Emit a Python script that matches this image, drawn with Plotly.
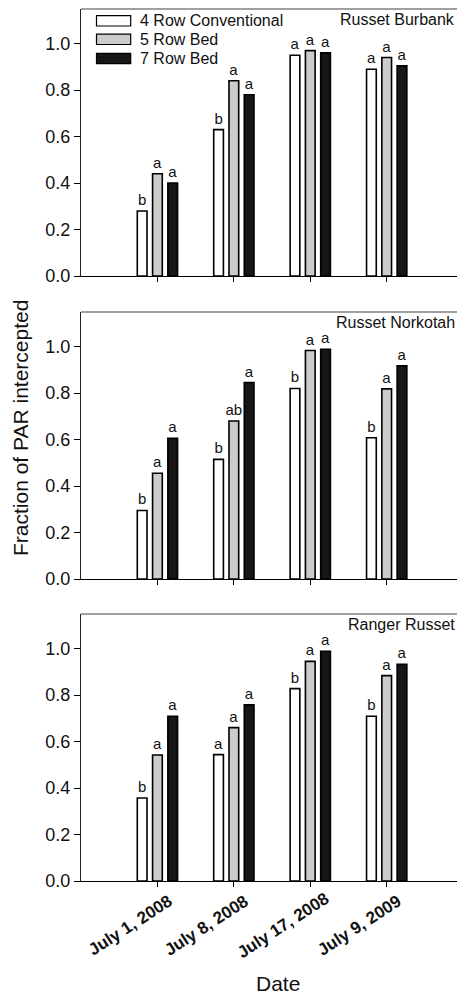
import plotly.graph_objects as go

dates = ["July 1, 2008", "July 8, 2008", "July 17, 2008", "July 9, 2009"]
series_names = ["4 Row Conventional", "5 Row Bed", "7 Row Bed"]
cultivars = ["Russet Burbank", "Russet Norkotah", "Ranger Russet"]

# fraction of PAR intercepted [cultivar][series][date]
burbank_4row = [0.28, 0.63, 0.95, 0.89]
burbank_5row = [0.44, 0.84, 0.97, 0.94]
burbank_7row = [0.40, 0.78, 0.96, 0.905]
norkotah_4row = [0.295, 0.515, 0.82, 0.608]
norkotah_5row = [0.455, 0.68, 0.983, 0.818]
norkotah_7row = [0.605, 0.845, 0.989, 0.917]
ranger_4row = [0.357, 0.544, 0.828, 0.709]
ranger_5row = [0.542, 0.66, 0.945, 0.884]
ranger_7row = [0.709, 0.758, 0.989, 0.933]

burbank_letters = [["b", "b", "a", "a"], ["a", "a", "a", "a"], ["a", "a", "a", "a"]]
norkotah_letters = [["b", "b", "b", "b"], ["a", "ab", "a", "a"], ["a", "a", "a", "a"]]
ranger_letters = [["b", "a", "b", "b"], ["a", "a", "a", "a"], ["a", "a", "a", "a"]]

panel_values = [
    [burbank_4row, burbank_5row, burbank_7row],
    [norkotah_4row, norkotah_5row, norkotah_7row],
    [ranger_4row, ranger_5row, ranger_7row],
]
panel_letters = [burbank_letters, norkotah_letters, ranger_letters]

fills = ["#ffffff", "#cccccc", "#161616"]
centers = [-0.2, 0.0, 0.2]
bar_w = 0.127
xpos = [1, 2, 3, 4]

FONT = "Liberation Sans, Arial, Helvetica, sans-serif"
W, H = 457, 994
L, R, T, B = 81, 0, 9, 113
plot_h = H - T - B
# panel pixel extents (top, bottom)
panels_px = [(9, 276), (312, 579), (614, 881)]
domains = [[(H - B - b) / plot_h, (H - B - t) / plot_h] for t, b in panels_px]

fig = go.Figure()
for p in range(3):
    xa = "x" if p == 0 else f"x{p+1}"
    ya = "y" if p == 0 else f"y{p+1}"
    for s in range(3):
        fig.add_trace(go.Bar(
            x=xpos, y=panel_values[p][s], name=series_names[s],
            width=bar_w, offset=centers[s] - bar_w / 2,
            marker=dict(color=fills[s], line=dict(color="#000000", width=1.6)),
            text=panel_letters[p][s], textposition="outside",
            textfont=dict(size=15, color="#111111", family=FONT),
            constraintext="none", cliponaxis=False,
            xaxis=xa, yaxis=ya, showlegend=False, hoverinfo="skip",
        ))

layout = dict(
    width=W, height=H, margin=dict(l=L, r=R, t=T, b=B),
    paper_bgcolor="white", plot_bgcolor="white",
    barmode="overlay", font=dict(family=FONT, color="#111111"),
    showlegend=False,
)
for p in range(3):
    kx = "xaxis" if p == 0 else f"xaxis{p+1}"
    ky = "yaxis" if p == 0 else f"yaxis{p+1}"
    ya = "y" if p == 0 else f"y{p+1}"
    xa = "x" if p == 0 else f"x{p+1}"
    layout[kx] = dict(
        domain=[0, 1], anchor=ya, range=[0, 4.92], tickvals=xpos, ticktext=dates,
        showticklabels=False,
        ticks="outside", ticklen=5, tickcolor="#000", showline=True,
        linecolor="#000", linewidth=1.3, showgrid=False, zeroline=False,
    )
    layout[ky] = dict(
        domain=domains[p], anchor=xa, range=[0, 1.149],
        tickvals=[0, 0.2, 0.4, 0.6, 0.8, 1.0], tickformat=".1f",
        tickfont=dict(size=18, family=FONT), ticks="outside", ticklen=6,
        tickcolor="#000", showline=True, linecolor="#222", linewidth=1.3,
        showgrid=False, zeroline=False,
    )
fig.update_layout(**layout)

shapes = []
annotations = []
for p in range(3):
    xd = "x domain" if p == 0 else f"x{p+1} domain"
    yd = "y domain" if p == 0 else f"y{p+1} domain"
    shapes.append(dict(type="line", xref=xd, yref=yd, x0=0, x1=1, y0=1, y1=1,
                       line=dict(color="#808080", width=1.5)))
    annotations.append(dict(text=cultivars[p], xref=xd, yref=yd, x=1.0, y=0.959,
                            xanchor="right", yanchor="middle", showarrow=False,
                            font=dict(size=16, family=FONT)))

# rotated date labels under the bottom panel
for xv, lab in zip(xpos, dates):
    annotations.append(dict(text=f"<b>{lab}</b>", xref="x3", yref="y3", x=xv, y=0,
                            xanchor="center", yanchor="middle", xshift=-27, yshift=-45,
                            textangle=-33, showarrow=False,
                            font=dict(size=17, family=FONT, color="#111111")))

# legend in the top panel (pixel-based placement)
pt, pb = panels_px[0]
def dx(px):
    return (px - L) / (W - L - R)
def dy(py):
    return (pb - py) / (pb - pt)
for i, cy in enumerate([20.8, 39.3, 58.5]):
    shapes.append(dict(type="rect", xref="x domain", yref="y domain",
                       x0=dx(96.5), x1=dx(130.7), y0=dy(cy + 5.2), y1=dy(cy - 5.2),
                       fillcolor=fills[i], line=dict(color="#000", width=1.2)))
    annotations.append(dict(text=series_names[i], xref="x domain", yref="y domain",
                            x=dx(137.5), y=dy(cy), xanchor="left", yanchor="middle",
                            showarrow=False, font=dict(size=16, family=FONT)))

annotations.append(dict(text="Fraction of PAR intercepted", xref="paper", yref="paper",
                        x=-(L - 20) / (W - L - R), xanchor="center",
                        y=(H - B - 428) / plot_h, yanchor="middle", textangle=-90,
                        showarrow=False, font=dict(size=21, family=FONT)))
annotations.append(dict(text="Date", xref="paper", yref="paper",
                        x=(278 - L) / (W - L - R), xanchor="center",
                        y=-(983 - (H - B)) / plot_h, yanchor="middle",
                        showarrow=False, font=dict(size=21, family=FONT)))
fig.update_layout(shapes=shapes, annotations=annotations)

fig.write_html("out.html", config={"displayModeBar": False},
               post_script="document.body.style.margin='0';document.body.style.overflow='hidden';")
